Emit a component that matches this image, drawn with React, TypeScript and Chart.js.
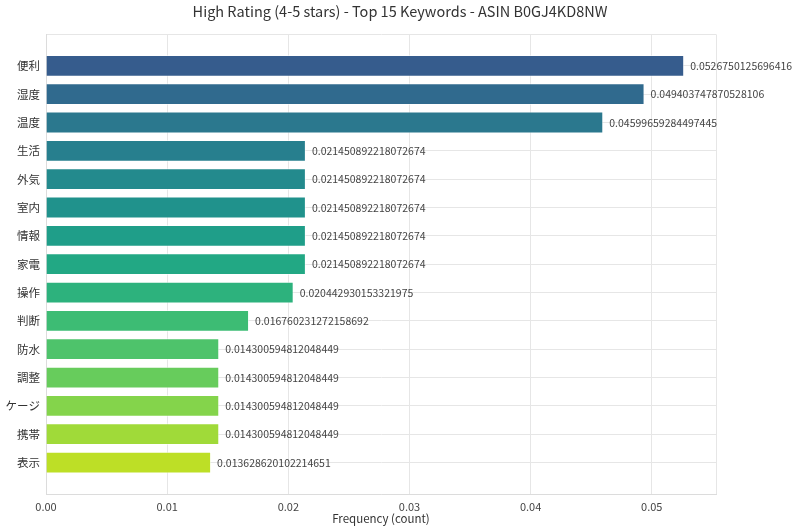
import { useEffect, useRef } from 'react';
import { Chart, ChartConfiguration, registerables } from 'chart.js';

Chart.register(...registerables);

const keywords = [
  '便利', '湿度', '温度', '生活', '外気', '室内', '情報', '家電',
  '操作', '判断', '防水', '調整', 'ケージ', '携帯', '表示',
];

const frequencies = [
  0.0526750125696416,
  0.049403747870528106,
  0.04599659284497445,
  0.021450892218072674,
  0.021450892218072674,
  0.021450892218072674,
  0.021450892218072674,
  0.021450892218072674,
  0.020442930153321975,
  0.016760231272158692,
  0.014300594812048449,
  0.014300594812048449,
  0.014300594812048449,
  0.014300594812048449,
  0.013628620102214651,
];

const xTicks = [0, 0.01, 0.02, 0.03, 0.04, 0.05];

// viridis slice, top to bottom
const barColors = [
  '#365c8d', '#306a8e', '#2b788e', '#277f8e', '#238a8d', '#20928c', '#1f9e89', '#22a884',
  '#2db27d', '#3dbc74', '#4ec36b', '#67cc5c', '#84d44b', '#a0da39', '#bddf26',
];

const FONT = '"Noto Sans CJK JP", "Noto Sans", sans-serif';
const GRID = '#e6e6e6';
const Y_PAD = 1.11;
const X_MAX = 0.0553;

const valueLabels = {
  id: 'valueLabels',
  afterLayout(chart: any) {
    // center the title over the whole canvas, not just the padded area
    if (chart.titleBlock) {
      chart.titleBlock.left = 0;
      chart.titleBlock.right = chart.width;
      chart.titleBlock.width = chart.width;
    }
  },
  afterDatasetsDraw(chart: Chart) {
    const ctx = chart.ctx;
    const meta = chart.getDatasetMeta(0);
    ctx.save();
    ctx.font = `10.5px ${FONT}`;
    ctx.fillStyle = '#444';
    ctx.textAlign = 'left';
    ctx.textBaseline = 'middle';
    meta.data.forEach((bar: any, i: number) => {
      ctx.fillText(String(frequencies[i]), bar.x + 6, bar.y);
    });
    ctx.restore();
  },
};

export default function App() {
  const chartRef = useRef<HTMLCanvasElement>(null);
  const chartInstance = useRef<Chart | null>(null);

  useEffect(() => {
    if (!chartRef.current) return;
    if (chartInstance.current) chartInstance.current.destroy();
    const ctx = chartRef.current.getContext('2d');
    if (!ctx) return;

    const yMin = -Y_PAD;
    const yMax = keywords.length - 1 + Y_PAD;

    const config: ChartConfiguration = {
      type: 'bar',
      data: {
        datasets: [
          {
            data: frequencies.map((v, i) => ({ x: v, y: i })) as any,
            backgroundColor: barColors,
            borderColor: 'rgba(255,255,255,0.55)',
            borderWidth: 1,
            barPercentage: 0.77,
            categoryPercentage: 1,
          },
        ],
      },
      options: {
        indexAxis: 'y',
        animation: false,
        responsive: true,
        maintainAspectRatio: false,
        layout: { padding: { left: 0, right: 84, top: 0, bottom: 0 } },
        plugins: {
          legend: { display: false },
          tooltip: { enabled: false },
          title: {
            display: true,
            text: 'High Rating (4-5 stars) - Top 15 Keywords - ASIN B0GJ4KD8NW',
            color: '#333',
            font: { family: FONT, size: 14.5, weight: 'normal' },
            padding: { top: 3, bottom: 14 },
          },
        },
        scales: {
          x: {
            type: 'linear',
            min: 0,
            max: X_MAX,
            afterBuildTicks: (scale: any) => {
              scale.ticks = [...xTicks.map((v) => ({ value: v })), { value: X_MAX }];
            },
            afterFit: (scale: any) => {
              scale.height = 38;
            },
            ticks: {
              color: '#444',
              font: { family: FONT, size: 11 },
              padding: 6,
              maxRotation: 0,
              autoSkip: false,
              callback: (v: any) => (xTicks.includes(v) ? Number(v).toFixed(2) : ''),
            },
            grid: { color: GRID, drawTicks: false },
            border: { display: true, color: '#dcdcdc' },
            title: {
              display: true,
              text: 'Frequency (count)',
              color: '#333',
              font: { family: FONT, size: 11.5 },
              padding: { top: 0, bottom: 6 },
            },
          },
          y: {
            type: 'linear',
            reverse: true,
            offset: false,
            min: yMin,
            max: yMax,
            afterBuildTicks: (scale: any) => {
              scale.ticks = [
                { value: yMin },
                ...keywords.map((_, i) => ({ value: i })),
                { value: yMax },
              ];
            },
            afterFit: (scale: any) => {
              scale.width = 46;
            },
            ticks: {
              color: '#333',
              font: { family: FONT, size: 11.5 },
              padding: 6,
              autoSkip: false,
              callback: (v: any) => (Number.isInteger(v) ? keywords[v] ?? '' : ''),
            },
            grid: { color: GRID, drawTicks: false, offset: false },
            border: { display: true, color: '#dcdcdc' },
          },
        },
      },
      plugins: [valueLabels],
    };

    chartInstance.current = new Chart(ctx, config);

    return () => {
      if (chartInstance.current) {
        chartInstance.current.destroy();
        chartInstance.current = null;
      }
    };
  }, []);

  return (
    <div style={{ position: 'fixed', left: 0, top: 0, width: 800, height: 532, background: '#fff' }}>
      <canvas ref={chartRef}></canvas>
    </div>
  );
}
